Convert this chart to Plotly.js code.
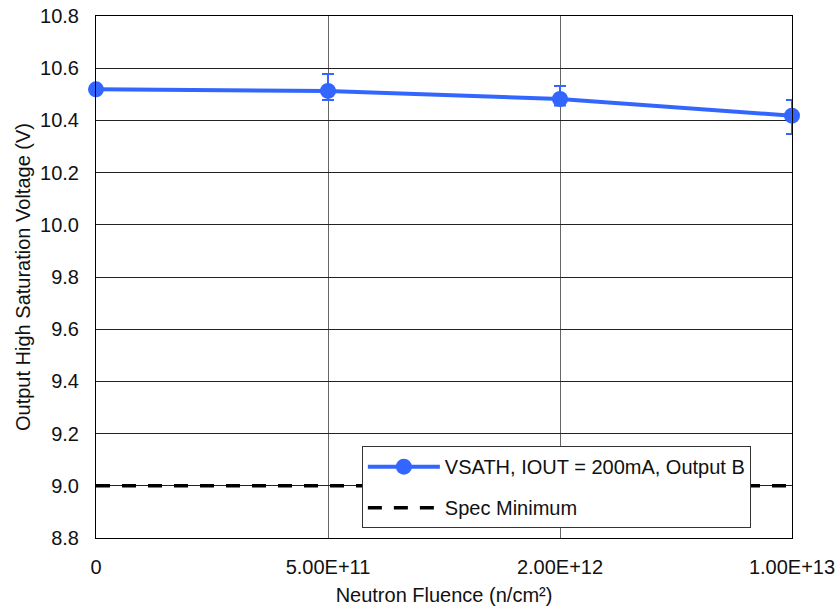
<!DOCTYPE html>
<html>
<head>
<meta charset="utf-8">
<script src="https://cdn.plot.ly/plotly-3.0.1.min.js"></script>
<style>html,body{margin:0;padding:0;background:#fff;}#chart{width:838px;height:610px;}</style>
</head>
<body>
<div id="chart"></div>
<script>
const categories = ['0', '5.00E+11', '2.00E+12', '1.00E+13'];
const vsath = [10.519, 10.513, 10.482, 10.418];
const errPlus = [0.0, 0.065, 0.05, 0.06];
const errMinus = [0.0, 0.035, 0.025, 0.07];
const specMin = [9.0, 9.0, 9.0, 9.0];
const yTicks = [8.8, 9.0, 9.2, 9.4, 9.6, 9.8, 10.0, 10.2, 10.4, 10.6, 10.8];

const FONT = 'Liberation Sans, Arial, sans-serif';
const BLUE = '#3366ff';

const traces = [
  {
    x: categories, y: vsath, name: 'VSATH, IOUT = 200mA, Output B',
    legendgroup: 'a',
    type: 'scatter', mode: 'lines+markers', cliponaxis: false,
    line: {color: BLUE, width: 4},
    marker: {color: BLUE, size: 16},
    error_y: {type: 'data', symmetric: false, array: errPlus, arrayminus: errMinus,
              color: BLUE, thickness: 2, width: 6}
  },
  {
    x: categories, y: specMin, name: 'Spec Minimum',
    legendgroup: 'b',
    type: 'scatter', mode: 'lines', cliponaxis: false,
    line: {color: '#000', width: 3.5, dash: '14px,12px'}
  }
];

const layout = {
  width: 838, height: 610,
  margin: {l: 96, r: 46, t: 16, b: 72},
  paper_bgcolor: '#fff', plot_bgcolor: '#fff',
  font: {family: FONT, size: 20, color: '#111'},
  showlegend: true,
  legend: {
    x: 0.382, y: 0.176, xanchor: 'left', yanchor: 'top',
    bgcolor: '#fff', bordercolor: '#333', borderwidth: 1,
    font: {family: FONT, size: 20, color: '#111'},
    traceorder: 'grouped', tracegroupgap: 12, itemwidth: 72
  },
  xaxis: {
    type: 'category', range: [0, 3],
    showgrid: true, gridcolor: '#666', gridwidth: 1,
    showline: true, linecolor: '#000', linewidth: 1, mirror: true,
    ticks: '', ticklabelstandoff: 11,
    tickfont: {family: FONT, size: 20, color: '#111'},
    zeroline: false,
    title: {text: 'Neutron Fluence (n/cm²)', font: {family: FONT, size: 20, color: '#111'}, standoff: 10}
  },
  yaxis: {
    range: [8.8, 10.8], tickvals: yTicks, tickformat: '.1f',
    showgrid: true, gridcolor: '#222', gridwidth: 1,
    showline: true, linecolor: '#000', linewidth: 1, mirror: true,
    ticks: '', ticklabelstandoff: 12,
    tickfont: {family: FONT, size: 20, color: '#111'},
    zeroline: false,
    title: {text: 'Output High Saturation Voltage (V)', font: {family: FONT, size: 20, color: '#111'}, standoff: 4}
  }
};

Plotly.newPlot('chart', traces, layout, {displayModeBar: false, staticPlot: true});
</script>
</body>
</html>
